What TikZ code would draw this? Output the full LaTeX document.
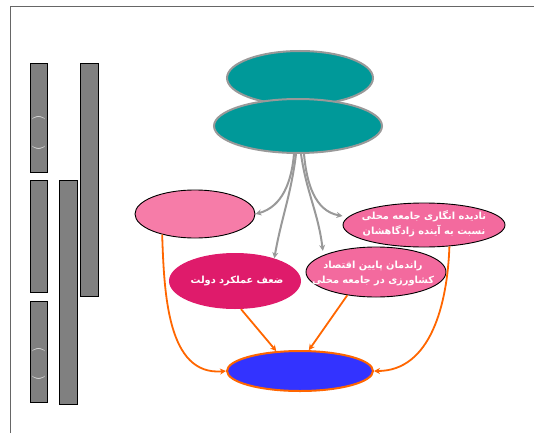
\documentclass[tikz,border=0pt]{standalone}
\usepackage{fontspec}
\newfontfamily\arabicfont[Script=Arabic]{DejaVu Sans}
\TeXXeTstate=1
\usetikzlibrary{shapes.geometric,arrows.meta}
\definecolor{tealfill}{HTML}{009999}
\definecolor{pinkfill}{HTML}{F67CA8}
\definecolor{pinkfillb}{HTML}{F36A9E}
\definecolor{darkpink}{HTML}{DF1B6B}
\definecolor{bluefill}{HTML}{3333FF}
\definecolor{orangeline}{HTML}{FF6600}
\definecolor{grayline}{HTML}{999999}
\definecolor{barfill}{HTML}{808080}
\definecolor{framegray}{HTML}{666666}
\tikzset{
  ell/.style={ellipse, inner sep=0pt},
  tealell/.style={ell, fill=tealfill, draw=grayline, line width=2pt},
  pinkell/.style={ell, fill=pinkfill, draw=black, line width=0.9pt},
  pinkellb/.style={ell, fill=pinkfillb, draw=black, line width=0.9pt},
  darkell/.style={ell, fill=darkpink},
  blueell/.style={ell, fill=bluefill, draw=orangeline, line width=2pt},
  lbl/.style={text=white, align=center, inner sep=0pt, font=\arabicfont\bfseries\fontsize{9.8}{15}\selectfont},
  grayarrow/.style={draw=grayline, line width=2pt, -{Stealth[length=6pt,width=6pt]}},
  orangearrow/.style={draw=orangeline, line width=1.8pt, -{Stealth[length=6pt,width=6pt]}},
  bar/.style={draw=black, fill=barfill, line width=0.9pt},
  paren/.style={rotate=-90, text=white, inner sep=0pt, font=\fontsize{13}{13}\selectfont},
  frameline/.style={draw=framegray, line width=1pt}
}
\begin{document}
\begin{tikzpicture}[x=1pt,y=-1pt]
\useasboundingbox (0,0) rectangle (534,433);
% frame
\coordinate (fa) at (10,433);
\coordinate (fb) at (10,7);
\coordinate (fc) at (534,7);
\draw[frameline] (fa) -- (fb) -- (fc);
% left bars
\draw[bar] (30,63) rectangle (47,172);
\draw[bar] (30,180) rectangle (47,292);
\draw[bar] (30,301) rectangle (47,402);
\draw[bar] (59,180) rectangle (77,404);
\draw[bar] (80,63) rectangle (98,296);
\node[paren] (pa) at (38.5,133) {(\hspace{25pt})};
\node[paren] (pc) at (38.5,364) {(\hspace{23pt})};
% ellipses
\node[tealell, minimum width=146pt, minimum height=54pt] (t1) at (300,78) {};
\node[tealell, minimum width=168pt, minimum height=54pt] (t2) at (298,126) {};
\node[pinkell, minimum width=120pt, minimum height=48pt] (pl) at (195,214) {};
\node[pinkellb, minimum width=162pt, minimum height=44pt] (r) at (424,225) {};
\node[pinkellb, minimum width=140pt, minimum height=50pt] (m) at (376,272) {};
\node[darkell, minimum width=132pt, minimum height=56pt] (d) at (235,281) {};
\node[blueell, minimum width=146pt, minimum height=40pt] (b) at (300,371) {};
% labels
\node[lbl] (rt) at (424,224) {\beginR نادیده انگاری جامعه محلی\endR\\\beginR نسبت به آینده زادگاهشان\endR};
\node[lbl] (mt) at (373,273) {\beginR راندمان پایین اقتصاد\endR\\\beginR کشاورزی در جامعه محلی\endR};
\node[lbl] (dt) at (237,281) {\beginR ضعف عملکرد دولت\endR};
% gray arrows
\draw[grayarrow] ([xshift=-4pt]t2.south) to[out=-95,in=15] (pl.east);
\draw[grayarrow] ([xshift=-2pt]t2.south) to[out=-97,in=80] (d.30);
\draw[grayarrow] ([xshift=3pt]t2.south) to[out=-82,in=97] ([xshift=-10pt,yshift=1pt]m.155);
\draw[grayarrow] ([xshift=6pt]t2.south) to[out=-85,in=170] ([yshift=9pt]r.west);
% orange arrows
\draw[orangearrow] (pl.212) to[out=-88,in=185] (b.west);
\draw[orangearrow] (r.-40) to[out=-92,in=0] (b.east);
\draw[orangearrow] (d.-78) -- (b.140);
\draw[orangearrow] (m.219) -- (b.67);
\end{tikzpicture}
\end{document}
